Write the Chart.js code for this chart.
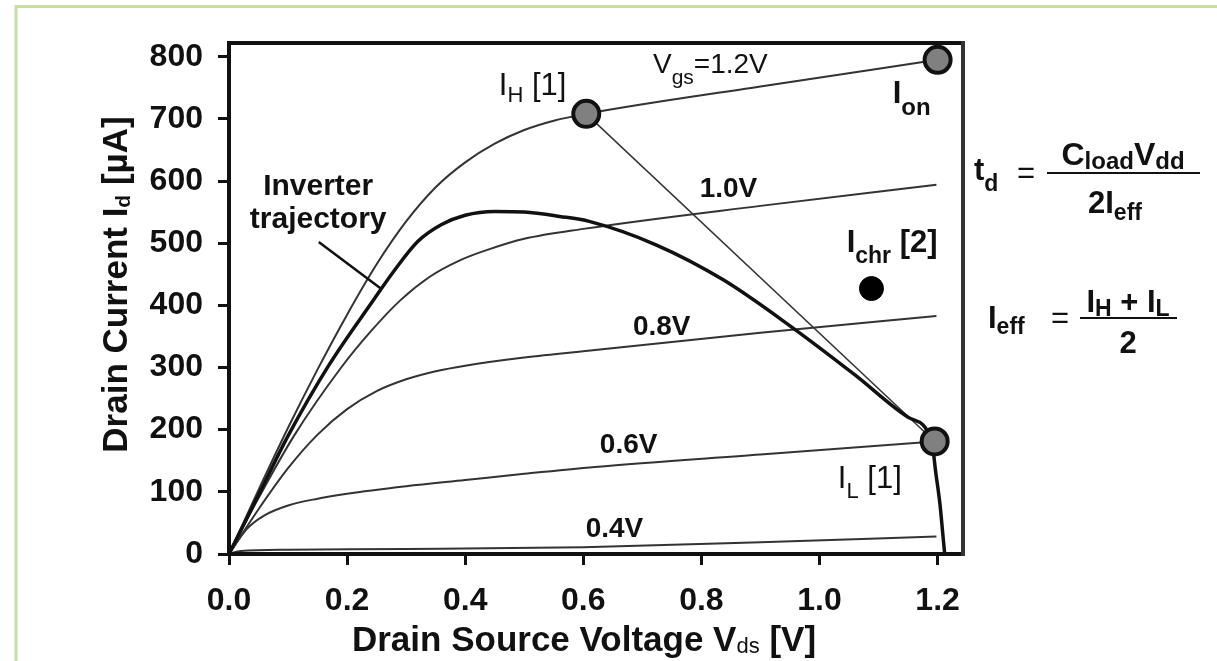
<!DOCTYPE html>
<html>
<head>
<meta charset="utf-8">
<script src="https://cdn.jsdelivr.net/npm/chart.js@4.4.1/dist/chart.umd.min.js"></script>
<style>
  html, body { margin: 0; padding: 0; background: #fff; }
  #wrap { width: 1217px; height: 661px; }
</style>
</head>
<body>
<div id="wrap"><canvas id="chartIdVds" width="1217" height="661"></canvas></div>
<script>
// ticks
const xTicks = [0.0, 0.2, 0.4, 0.6, 0.8, 1.0, 1.2];
const yTicks = [0, 100, 200, 300, 400, 500, 600, 700, 800];

// Vgs = 1.2 V
const vds12 = [0, 0.05, 0.1, 0.15, 0.2, 0.25, 0.3, 0.35, 0.4, 0.45, 0.5, 0.55, 0.605, 0.9, 1.2];
const id12  = [0, 103, 203, 297, 385, 466, 535, 590, 630, 660, 682, 697, 708, 752, 795];
// Vgs = 1.0 V
const vds10 = [0, 0.05, 0.11, 0.19, 0.24, 0.29, 0.34, 0.39, 0.44, 0.5, 0.6, 0.9, 1.198];
const id10  = [0, 90, 190, 300, 358, 408, 446, 472, 490, 507, 523, 560, 594];
// Vgs = 0.8 V
const vds08 = [0, 0.05, 0.1, 0.15, 0.2, 0.25, 0.3, 0.35, 0.4, 0.5, 0.62, 0.9, 1.198];
const id08  = [0, 72, 138, 192, 233, 262, 281, 294, 303, 316, 328, 356, 383];
// Vgs = 0.6 V
const vds06 = [0, 0.03, 0.06, 0.1, 0.15, 0.2, 0.3, 0.4, 0.5, 0.62, 0.9, 1.195];
const id06  = [0, 40, 62, 78, 89, 97, 109, 119, 129, 140, 160, 181];
// Vgs = 0.4 V
const vds04 = [0, 0.02, 0.1, 0.3, 0.6, 0.9, 1.198];
const id04  = [0, 5, 7, 8, 11, 19, 28];
// inverter trajectory
const vdsTraj = [0, 0.05, 0.1, 0.17, 0.245, 0.28, 0.32, 0.36, 0.4, 0.45, 0.5, 0.56, 0.61, 0.724, 0.837, 0.95, 1.06, 1.15, 1.19, 1.197, 1.204, 1.209, 1.212];
const idTraj  = [0, 95, 190, 305, 409, 456, 503, 530, 545, 551, 550, 543, 535, 497, 441, 367, 288, 220, 181, 130, 80, 30, 0];

// I_H, I_on, I_L markers and I_chr
const markV = [0.605, 1.2, 1.195];
const markI = [708, 795, 181];
const chrV = [1.088];
const chrI = [427];

// pointer for "Inverter trajectory"
const ptrV = [0.152, 0.257];
const ptrI = [502, 427];

const pts = (xs, ys) => xs.map((x, k) => ({ x: x, y: ys[k] }));

const FONT = '"Liberation Sans", Arial, sans-serif';

const curve = (xs, ys) => ({
    data: pts(xs, ys), showLine: true, pointRadius: 0, borderColor: '#333', borderWidth: 2,
    cubicInterpolationMode: 'monotone', fill: false, order: 2
});

// text drawn on the plot: anchor (v, i) is the left end of the baseline
const notes = [
    { v: 0.457, i: 738, parts: [['I', 0], ['H', 1], [' [1]', 0]], main: 31, sub: 22, dy: 7, w: 'normal' },
    { v: 0.718, i: 774, parts: [['V', 0], ['gs', 1], ['=1.2V', 0]], main: 28, sub: 21, dy: 11, w: 'normal' },
    { v: 1.124, i: 725, parts: [['I', 0], ['on', 1]], main: 31, sub: 24, dy: 12, w: 'bold' },
    { v: 0.797, i: 575, parts: [['1.0V', 0]], main: 28, sub: 20, dy: 0, w: 'bold' },
    { v: 1.046, i: 486, parts: [['I', 0], ['chr', 1], [' [2]', 0]], main: 31, sub: 23, dy: 11, w: 'bold' },
    { v: 0.684, i: 352, parts: [['0.8V', 0]], main: 28, sub: 20, dy: 0, w: 'bold' },
    { v: 0.628, i: 162, parts: [['0.6V', 0]], main: 28, sub: 20, dy: 0, w: 'bold' },
    { v: 0.604, i: 27, parts: [['0.4V', 0]], main: 28, sub: 20, dy: 0, w: 'bold' },
    { v: 1.031, i: 106, parts: [['I', 0], ['L', 1], [' [1]', 0]], main: 31, sub: 22, dy: 10, w: 'normal' }
];

function rich(ctx, x, y, parts, main, sub, dy, w, subW, draw) {
    let cx = x;
    parts.forEach(([t, s]) => {
        ctx.font = (s ? (subW || w) : w) + ' ' + (s ? sub : main) + 'px ' + FONT;
        if (draw) ctx.fillText(t, cx, y + (s ? dy : 0));
        cx += ctx.measureText(t).width;
    });
    return cx - x;
}

function richCenter(ctx, cx, y, parts, main, sub, dy, w) {
    const wd = rich(ctx, 0, 0, parts, main, sub, dy, w, null, false);
    rich(ctx, cx - wd / 2, y, parts, main, sub, dy, w, null, true);
}

const drawExtras = {
    id: 'drawExtras',
    beforeDraw(chart) {
        const ctx = chart.ctx;
        ctx.save();
        ctx.fillStyle = '#fff';
        ctx.fillRect(0, 0, chart.width, chart.height);
        ctx.strokeStyle = '#c6e0a2';
        ctx.lineWidth = 3;
        ctx.beginPath();
        ctx.moveTo(16, chart.height + 5);
        ctx.lineTo(16, 6.5);
        ctx.lineTo(chart.width + 5, 6.5);
        ctx.stroke();
        ctx.restore();
    },
    afterDatasetsDraw(chart) {
        const ctx = chart.ctx, ca = chart.chartArea;
        const xs = chart.scales.x, ys = chart.scales.y;
        ctx.save();

        // plot frame
        ctx.lineWidth = 4;
        ctx.strokeStyle = '#111';
        ctx.beginPath();
        ctx.moveTo(ca.right, ca.top); ctx.lineTo(ca.left, ca.top);
        ctx.lineTo(ca.left, ca.bottom); ctx.lineTo(ca.right, ca.bottom);
        ctx.stroke();
        ctx.strokeStyle = '#333';
        ctx.beginPath();
        ctx.moveTo(ca.right, ca.top - 2); ctx.lineTo(ca.right, ca.bottom + 2);
        ctx.stroke();

        ctx.fillStyle = '#111';
        ctx.textBaseline = 'alphabetic';
        ctx.textAlign = 'left';

        notes.forEach(n => {
            rich(ctx, xs.getPixelForValue(n.v), ys.getPixelForValue(n.i), n.parts, n.main, n.sub, n.dy, n.w, null, true);
        });

        // Inverter trajectory
        ctx.textAlign = 'center';
        ctx.font = 'bold 30px ' + FONT;
        ctx.fillText('Inverter', xs.getPixelForValue(0.151), ys.getPixelForValue(577));
        ctx.fillText('trajectory', xs.getPixelForValue(0.151), ys.getPixelForValue(525));
        ctx.textAlign = 'left';

        // axis titles
        ctx.save();
        ctx.translate(115, (ca.top + ca.bottom) / 2 - 14);
        ctx.rotate(-Math.PI / 2);
        const yTitle = [['Drain Current I', 0], ['d', 1], [' [\u00b5A]', 0]];
        const yw = rich(ctx, 0, 0, yTitle, 35, 21, 3, 'bold', null, false);
        rich(ctx, -yw / 2, 12, yTitle, 35, 21, 3, 'bold', null, true);
        ctx.restore();

        const xTitle = [['Drain Source Voltage V', 0], ['ds', 1], [' [V]', 0]];
        const xw = rich(ctx, 0, 0, xTitle, 35, 22, 2, 'bold', 'normal', false);
        rich(ctx, 584 - xw / 2, 651, xTitle, 35, 22, 2, 'bold', 'normal', true);

        // formulas to the right of the plot
        const R = ca.right;
        rich(ctx, R + 11, 180, [['t', 0], ['d', 1]], 31, 23, 11, 'bold', null, true);
        ctx.font = 'normal 31px ' + FONT;
        ctx.fillText('=', R + 54, 183);
        ctx.fillRect(R + 84, 172, 153, 2);
        richCenter(ctx, R + 160, 165, [['C', 0], ['load', 1], ['V', 0], ['dd', 1]], 32, 24, 4, 'bold');
        richCenter(ctx, R + 152, 213, [['2I', 0], ['eff', 1]], 31, 23, 7, 'bold');

        rich(ctx, R + 25, 328, [['I', 0], ['eff', 1]], 31, 23, 6, 'bold', null, true);
        ctx.font = 'normal 31px ' + FONT;
        ctx.fillText('=', R + 88, 328);
        ctx.fillRect(R + 117, 317, 97, 2);
        richCenter(ctx, R + 165, 312, [['I', 0], ['H', 1], [' + I', 0], ['L', 1]], 31, 23, 4, 'bold');
        richCenter(ctx, R + 165, 353, [['2', 0]], 31, 23, 0, 'bold');

        ctx.restore();
    }
};

new Chart(document.getElementById('chartIdVds'), {
    type: 'line',
    data: {
        datasets: [
            { data: pts(markV, markI), showLine: false, pointRadius: 13, pointBackgroundColor: '#808080',
              pointBorderColor: '#111', pointBorderWidth: 4, order: 0, clip: false },
            { data: pts(chrV, chrI), showLine: false, pointRadius: 12, pointBackgroundColor: '#000',
              pointBorderColor: '#000', pointBorderWidth: 1, order: 0, clip: false },
            curve(vds12, id12),
            curve(vds10, id10),
            curve(vds08, id08),
            curve(vds06, id06),
            curve(vds04, id04),
            Object.assign(curve(vdsTraj, idTraj), { borderColor: '#111', borderWidth: 3.5, order: 1 }),
            { data: pts([markV[0], markV[2]], [markI[0], markI[2]]), showLine: true, pointRadius: 0,
              borderColor: '#333', borderWidth: 1.5, tension: 0, order: 1 },
            { data: pts(ptrV, ptrI), showLine: true, pointRadius: 0, borderColor: '#111',
              borderWidth: 2.5, tension: 0, order: 1 }
        ]
    },
    options: {
        responsive: false,
        animation: false,
        events: [],
        layout: { padding: { left: 0, top: 43, right: 254, bottom: 0 } },
        plugins: { legend: { display: false }, tooltip: { enabled: false } },
        scales: {
            x: {
                type: 'linear', min: 0, max: 1.243,
                afterBuildTicks: a => { a.ticks = xTicks.map(v => ({ value: v })); },
                afterFit: s => { s.height = 107; },
                ticks: { callback: v => Number(v).toFixed(1), color: '#111', padding: 17,
                         maxRotation: 0, autoSkip: false, font: { family: FONT, size: 32, weight: 'bold' } },
                grid: { drawOnChartArea: false, drawTicks: true, tickLength: 11, tickWidth: 3, tickColor: '#111' },
                border: { display: false }
            },
            y: {
                type: 'linear', min: 0, max: 822,
                afterBuildTicks: a => { a.ticks = yTicks.map(v => ({ value: v })); },
                afterFit: s => { s.width = 229; },
                ticks: { color: '#111', padding: 15, autoSkip: false,
                         font: { family: FONT, size: 32, weight: 'bold' } },
                grid: { drawOnChartArea: false, drawTicks: true, tickLength: 11, tickWidth: 3, tickColor: '#111' },
                border: { display: false }
            }
        }
    },
    plugins: [drawExtras]
});
</script>
</body>
</html>
